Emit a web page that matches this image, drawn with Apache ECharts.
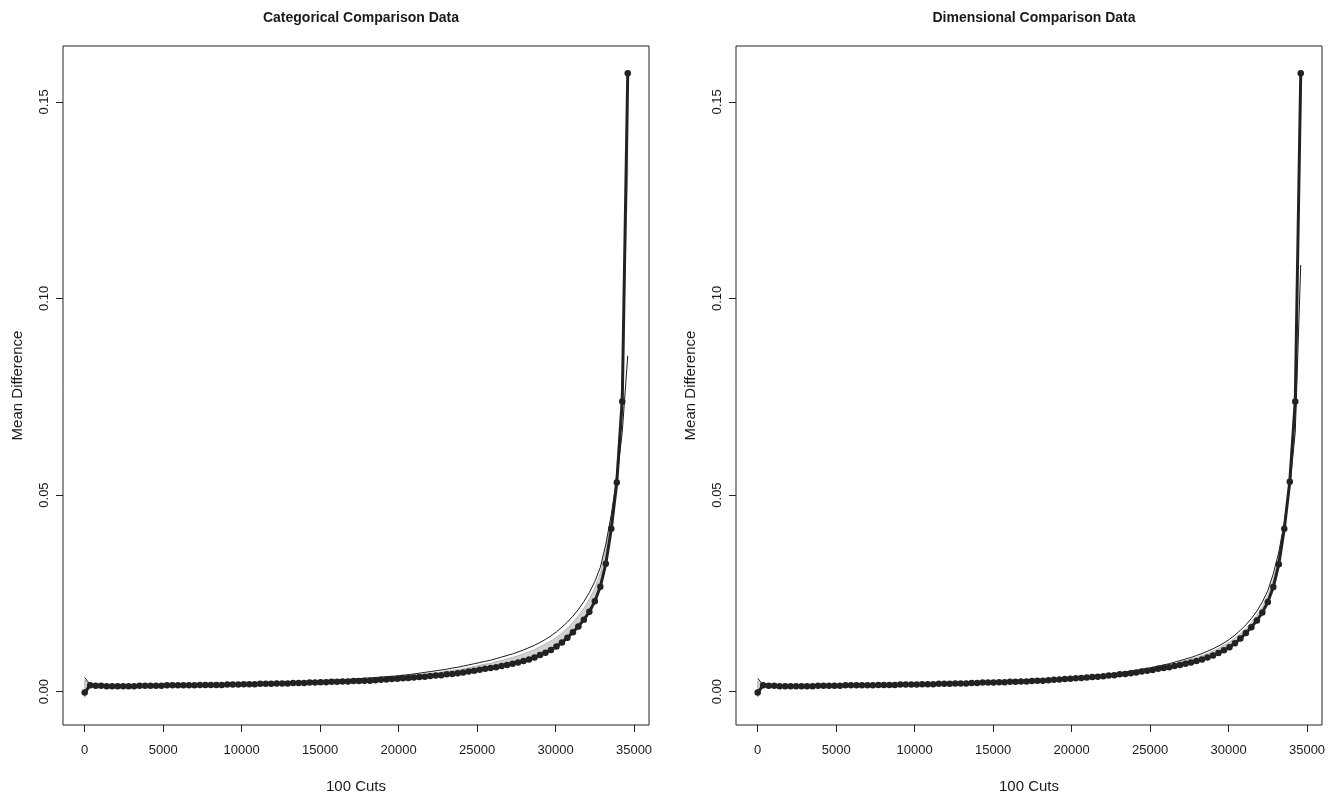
<!DOCTYPE html>
<html>
<head>
<meta charset="utf-8">
<script src="https://cdn.jsdelivr.net/npm/echarts@6/dist/echarts.min.js"></script>
<style>
html,body{margin:0;padding:0;background:#fff;}
#chart{width:1339px;height:799px;}
</style>
</head>
<body>
<div id="chart"></div>
<script>
// ---------- data ----------
var panelTitles = ['Categorical Comparison Data', 'Dimensional Comparison Data'];
var xAxisTitle = '100 Cuts';
var yAxisTitle = 'Mean Difference';
var xTicks = [0, 5000, 10000, 15000, 20000, 25000, 30000, 35000];
var yTicks = [0, 0.05, 0.10, 0.15];

var cuts = [0,350,699,1049,1398,1748,2097,2447,2796,3146,3495,3845,4194,4544,4893,5243,5592,5942,6291,6641,
6990,7340,7689,8039,8388,8738,9087,9437,9786,10136,10485,10835,11184,11534,11883,12233,12582,12932,13281,13631,
13980,14330,14679,15029,15378,15728,16077,16427,16776,17126,17475,17825,18174,18524,18873,19223,19572,19922,20271,20621,
20970,21320,21669,22019,22368,22718,23067,23417,23766,24116,24465,24815,25164,25514,25863,26213,26562,26912,27261,27611,
27960,28310,28659,29009,29358,29708,30057,30407,30756,31106,31455,31805,32154,32504,32853,33203,33552,33902,34251,34601];

var meanCategorical = [-0.0002,0.0016,
0.0015,0.0015,0.0014,0.0014,0.0014,0.0014,0.0014,0.0014,0.0015,0.0015,0.0015,0.0015,0.0015,
0.0016,0.0016,0.0016,0.0016,0.0016,0.0016,0.0017,0.0017,0.0017,0.0017,0.0017,0.0018,0.0018,0.0018,
0.0019,0.0019,0.0019,0.0020,0.0020,0.0020,0.0021,0.0021,0.0021,0.0022,0.0022,0.0022,0.0023,0.0023,0.0024,
0.0024,0.0025,0.0025,0.0026,0.0026,0.0027,0.0027,0.0028,0.0028,0.0029,0.0030,0.0031,0.0032,0.0033,
0.0034,0.0035,0.0036,0.0037,0.0038,0.0040,0.0041,0.0042,0.0044,0.0045,0.0047,0.0049,0.0051,0.0053,
0.0056,0.0058,0.0060,0.0062,0.0065,0.0068,0.0071,0.0074,0.0078,0.0082,0.0087,0.0093,0.0099,0.0106,
0.0115,0.0125,0.0137,0.0151,0.0166,0.0183,0.0203,0.0230,0.0267,0.0325,0.0414,0.0532,0.0738,0.1573];

var refCategorical = [0.0036,0.0018,
0.0017,0.0017,0.0016,0.0016,0.0016,0.0016,0.0016,0.0016,0.0017,0.0017,0.0017,0.0017,0.0017,
0.0018,0.0018,0.0018,0.0018,0.0018,0.0018,0.0019,0.0019,0.0019,0.0019,0.0020,0.0020,0.0020,0.0021,
0.0021,0.0022,0.0022,0.0023,0.0023,0.0023,0.0024,0.0024,0.0025,0.0025,0.0026,0.0026,0.0027,0.0027,0.0028,
0.0029,0.0029,0.0030,0.0031,0.0031,0.0032,0.0033,0.0034,0.0035,0.0036,0.0037,0.0038,0.0039,0.0040,
0.0042,0.0043,0.0045,0.0047,0.0049,0.0051,0.0053,0.0055,0.0057,0.0060,0.0062,0.0065,0.0068,0.0071,
0.0074,0.0077,0.0080,0.0084,0.0088,0.0092,0.0096,0.0101,0.0106,0.0112,0.0118,0.0125,0.0133,0.0142,
0.0152,0.0164,0.0177,0.0192,0.0209,0.0229,0.0252,0.0280,0.0316,0.0375,0.0450,0.0540,0.0660,0.0854];

var bandUpperCategorical = [0.0030,0.0017,
0.0016,0.0016,0.0015,0.0015,0.0015,0.0015,0.0015,0.0015,0.0016,0.0016,0.0016,0.0016,0.0016,
0.0017,0.0017,0.0017,0.0017,0.0017,0.0017,0.0018,0.0018,0.0018,0.0018,0.0019,0.0019,0.0019,0.0020,
0.0020,0.0021,0.0021,0.0022,0.0022,0.0022,0.0023,0.0023,0.0023,0.0024,0.0024,0.0024,0.0025,0.0025,0.0026,
0.0027,0.0027,0.0028,0.0029,0.0029,0.0030,0.0031,0.0031,0.0032,0.0033,0.0034,0.0035,0.0036,0.0037,
0.0039,0.0040,0.0041,0.0043,0.0044,0.0046,0.0048,0.0050,0.0052,0.0054,0.0056,0.0058,0.0061,0.0064,
0.0067,0.0070,0.0072,0.0076,0.0079,0.0083,0.0087,0.0091,0.0096,0.0101,0.0107,0.0114,0.0121,0.0129,
0.0138,0.0149,0.0161,0.0176,0.0193,0.0212,0.0235,0.0263,0.0300,0.0360,0.0445,0.0560,0.0800,0.1323];

var meanDimensional = [-0.0002,0.0016,
0.0015,0.0015,0.0014,0.0014,0.0014,0.0014,0.0014,0.0014,0.0014,0.0015,0.0015,0.0015,0.0015,
0.0015,0.0016,0.0016,0.0016,0.0016,0.0016,0.0016,0.0017,0.0017,0.0017,0.0017,0.0018,0.0018,0.0018,
0.0018,0.0019,0.0019,0.0019,0.0020,0.0020,0.0020,0.0021,0.0021,0.0021,0.0022,0.0022,0.0023,0.0023,0.0023,
0.0024,0.0024,0.0025,0.0025,0.0026,0.0026,0.0027,0.0028,0.0028,0.0029,0.0030,0.0031,0.0032,0.0033,
0.0034,0.0035,0.0036,0.0037,0.0038,0.0039,0.0041,0.0042,0.0044,0.0045,0.0047,0.0049,0.0051,0.0053,
0.0055,0.0058,0.0060,0.0062,0.0065,0.0068,0.0071,0.0074,0.0078,0.0082,0.0087,0.0092,0.0098,0.0105,
0.0113,0.0123,0.0135,0.0149,0.0164,0.0181,0.0201,0.0228,0.0266,0.0324,0.0414,0.0534,0.0738,0.1573];

var refDimensional = [0.0034,0.0017,
0.0016,0.0016,0.0015,0.0015,0.0015,0.0015,0.0015,0.0015,0.0016,0.0016,0.0016,0.0016,0.0016,
0.0017,0.0017,0.0017,0.0017,0.0017,0.0017,0.0018,0.0018,0.0018,0.0018,0.0018,0.0019,0.0019,0.0019,
0.0020,0.0020,0.0020,0.0021,0.0021,0.0021,0.0022,0.0022,0.0022,0.0023,0.0023,0.0024,0.0024,0.0025,0.0025,
0.0026,0.0026,0.0027,0.0027,0.0028,0.0029,0.0029,0.0030,0.0031,0.0031,0.0032,0.0033,0.0034,0.0035,
0.0036,0.0037,0.0039,0.0040,0.0041,0.0043,0.0044,0.0046,0.0048,0.0050,0.0052,0.0054,0.0057,0.0059,
0.0062,0.0065,0.0068,0.0071,0.0075,0.0079,0.0083,0.0087,0.0092,0.0097,0.0103,0.0109,0.0116,0.0124,
0.0133,0.0144,0.0156,0.0170,0.0186,0.0205,0.0228,0.0257,0.0300,0.0355,0.0430,0.0520,0.0660,0.1085];

var bandUpperDimensional = [0.0028,0.0016,
0.0015,0.0015,0.0015,0.0015,0.0015,0.0015,0.0015,0.0015,0.0016,0.0016,0.0016,0.0016,0.0016,
0.0017,0.0017,0.0017,0.0017,0.0017,0.0017,0.0018,0.0018,0.0018,0.0018,0.0018,0.0019,0.0019,0.0019,
0.0020,0.0020,0.0020,0.0021,0.0021,0.0021,0.0022,0.0022,0.0022,0.0023,0.0023,0.0023,0.0024,0.0024,0.0025,
0.0025,0.0026,0.0026,0.0027,0.0027,0.0028,0.0028,0.0029,0.0030,0.0030,0.0031,0.0032,0.0033,0.0034,
0.0035,0.0036,0.0038,0.0039,0.0040,0.0042,0.0043,0.0045,0.0047,0.0049,0.0051,0.0053,0.0055,0.0057,
0.0060,0.0062,0.0065,0.0068,0.0071,0.0075,0.0079,0.0083,0.0087,0.0092,0.0097,0.0103,0.0110,0.0118,
0.0126,0.0136,0.0147,0.0161,0.0176,0.0194,0.0216,0.0245,0.0285,0.0345,0.0430,0.0550,0.0770,0.1480];

var bandStartLow = [-0.0015, -0.0014];

// ---------- chart ----------
var FONT = 'Liberation Sans, Arial, Helvetica, sans-serif';
var TXT = '#1a1a1a';
var gridLefts = [63, 736];
var means = [meanCategorical, meanDimensional];
var refs = [refCategorical, refDimensional];
var bandUps = [bandUpperCategorical, bandUpperDimensional];

function pairs(ys) { return cuts.map(function (x, i) { return [x, ys[i]]; }); }

var option = {
  animation: false,
  backgroundColor: '#fff',
  textStyle: { fontFamily: FONT },
  title: [], grid: [], xAxis: [], yAxis: [], series: []
};

for (var p = 0; p < 2; p++) {
  (function (p) {
    option.title.push({
      text: panelTitles[p], left: gridLefts[p] + 293, top: 6, textAlign: 'center',
      textStyle: { fontFamily: FONT, fontSize: 14, fontWeight: 'bold', color: TXT }
    });
    option.grid.push({
      left: gridLefts[p], top: 46, width: 586, height: 680,
      show: true, borderColor: '#222', borderWidth: 1, backgroundColor: 'transparent'
    });
    option.xAxis.push({
      type: 'value', gridIndex: p, min: -1383, max: 35955, position: 'bottom',
      name: xAxisTitle, nameLocation: 'middle', nameGap: 54,
      nameTextStyle: { fontFamily: FONT, fontSize: 15, color: TXT },
      axisLine: { show: false, onZero: false },
      axisTick: { show: true, inside: false, length: 7, customValues: xTicks, lineStyle: { color: '#222' } },
      axisLabel: { customValues: xTicks, margin: 19, fontSize: 13, color: TXT, fontFamily: FONT,
        formatter: function (v) { return String(v); } },
      splitLine: { show: false }
    });
    option.yAxis.push({
      type: 'value', gridIndex: p, min: -0.00848, max: 0.1642, position: 'left',
      name: yAxisTitle, nameLocation: 'middle', nameGap: 38, nameRotate: 90,
      nameTextStyle: { fontFamily: FONT, fontSize: 15, color: TXT },
      axisLine: { show: false, onZero: false },
      axisTick: { show: true, inside: false, length: 7, customValues: yTicks, lineStyle: { color: '#222' } },
      axisLabel: { customValues: yTicks, rotate: 90, margin: 12, fontSize: 13, color: TXT, fontFamily: FONT,
        formatter: function (v) { return v.toFixed(2); } },
      splitLine: { show: false }
    });
    var mean = means[p], up = bandUps[p], low0 = bandStartLow[p];
    option.series.push({
      type: 'custom', xAxisIndex: p, yAxisIndex: p, silent: true, z: 1,
      data: cuts.map(function (x, i) { return [x, up[i]]; }),
      renderItem: function (params, api) {
        if (params.dataIndex !== 0) return null;
        var pts = [];
        for (var i = 0; i < cuts.length; i++) pts.push(api.coord([cuts[i], up[i]]));
        for (var j = cuts.length - 1; j >= 0; j--) pts.push(api.coord([cuts[j], j === 0 ? low0 : mean[j]]));
        return { type: 'polygon', shape: { points: pts },
          style: { fill: '#d2d2d2', stroke: '#a8a8a8', lineWidth: 0.8 } };
      }
    });
    option.series.push({
      type: 'line', xAxisIndex: p, yAxisIndex: p, data: pairs(refs[p]), showSymbol: false, z: 2,
      lineStyle: { color: '#1a1a1a', width: 1 }, silent: true
    });
    option.series.push({
      type: 'line', xAxisIndex: p, yAxisIndex: p, data: pairs(mean), z: 3,
      symbol: 'circle', symbolSize: 6.5, showSymbol: true,
      itemStyle: { color: '#222' }, lineStyle: { color: '#222', width: 3 }, silent: true
    });
  })(p);
}

var chart = echarts.init(document.getElementById('chart'), null, { renderer: 'canvas' });
chart.setOption(option);
</script>
</body>
</html>
